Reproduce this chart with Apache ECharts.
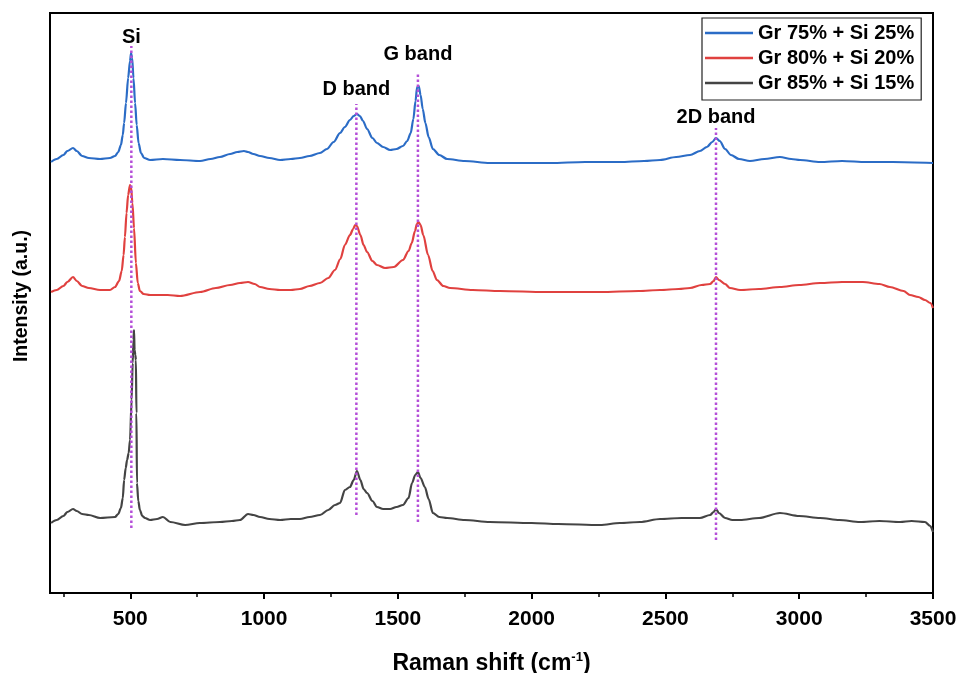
<!DOCTYPE html>
<html>
<head>
<meta charset="utf-8">
<script src="https://cdn.jsdelivr.net/npm/echarts@6/dist/echarts.min.js"></script>
<style>html,body{margin:0;padding:0;background:#fff}#c{width:961px;height:673px}</style>
</head>
<body>
<div id="c"></div>
<script>
// ---- data (Raman shift in cm^-1, intensity in arbitrary units, spectra vertically offset) ----
var seriesNames = ['Gr 75% + Si 25%', 'Gr 80% + Si 20%', 'Gr 85% + Si 15%'];
var seriesColors = ['#2b6cc6', '#e0413f', '#444444'];

var shift75 = [204,225,250,265,286,300,320,345,387,424,443,455,465,472,477,484,492,499,503,507,512,518,524,531,540,552,574,622,686,761,800,835,873,900,925,940,960,985,1020,1060,1100,1134,1170,1209,1235,1260,1284,1302,1321,1335,1347,1358,1370,1385,1405,1422,1445,1471,1495,1519,1535,1548,1558,1566,1572,1578,1585,1593,1603,1615,1631,1655,1684,1750,1844,1950,2069,2200,2330,2420,2480,2540,2592,2629,2655,2675,2689,2703,2723,2745,2775,2816,2870,2928,2970,3003,3078,3160,3250,3350,3500];
var int75   = [431,434,438,442,445,442,437,435,434,435,437,441,448,458,470,490,515,532,540,535,515,490,468,450,440,435,433,434,433,432,434,436,439,441,442,441,439,437,435,433,434,435,437,440,444,451,460,466,473,477,479,477,472,464,455,450,446,443,444,447,452,460,474,492,506,507,498,484,470,456,444,438,434,432,430,430,430,431,431,432,433,436,438,442,446,451,455,452,444,438,434,432,434,436,434,433,431,432,431,431,430];

var shift80 = [204,225,250,265,286,300,320,345,387,424,443,458,468,475,480,486,492,499,503,508,514,521,528,536,550,574,640,686,761,820,873,910,940,965,985,1020,1060,1100,1134,1170,1209,1240,1265,1285,1302,1321,1333,1340,1347,1360,1372,1385,1405,1422,1452,1485,1519,1540,1552,1564,1571,1577,1585,1595,1613,1630,1646,1670,1695,1780,1882,2050,2256,2400,2480,2550,2592,2635,2667,2680,2689,2700,2723,2741,2779,2850,2928,3000,3078,3160,3238,3300,3339,3390,3414,3445,3470,3490,3500];
var int80   = [301,303,307,311,316,312,307,305,303,303,306,312,322,338,356,380,398,408,406,390,365,330,310,302,299,298,298,297,301,305,308,310,311,309,306,304,303,303,304,307,310,315,323,334,348,358,364,368,367,358,348,341,332,328,325,326,333,342,350,362,369,371,368,358,338,322,313,307,305,303,302,301,301,302,303,304,305,308,309,312,316,313,309,305,303,304,306,308,310,311,311,309,306,302,298,296,293,290,285];

var shift85 = [204,225,250,265,286,300,320,345,387,443,455,465,472,477,483,488,494,499,505,509,512,514,516,519,521,523,525,530,536,545,555,574,600,622,650,705,760,835,880,910,940,960,985,1020,1060,1100,1134,1170,1209,1240,1265,1284,1302,1321,1335,1347,1360,1372,1385,1405,1422,1445,1471,1495,1519,1540,1553,1565,1575,1585,1601,1615,1631,1655,1684,1750,1844,2000,2100,2256,2330,2405,2480,2560,2629,2667,2680,2689,2700,2723,2750,2779,2850,2928,3000,3078,3150,3227,3300,3377,3420,3470,3490,3500];
var int85   = [70,73,77,81,84,82,79,78,75,76,79,85,95,113,125,133,140,153,193,230,253,263,243,238,233,180,110,92,83,77,75,73,74,76,71,68,70,71,72,73,79,78,76,74,73,74,74,76,78,83,88,90,103,106,113,122,113,104,100,92,86,84,84,86,88,95,110,118,121,115,106,94,80,76,75,73,71,70,69,68,70,71,74,75,75,78,81,84,80,75,73,73,75,80,77,75,73,71,72,71,72,71,67,61];

var bandNames  = ['Si', 'D band', 'G band', '2D band'];
var bandShift  = [504, 1345, 1575, 2689];
var bandLow    = [65, 78, 71, 53];
var bandHigh   = [547, 489, 521, 465];
var bandLabelLevel = [556, 504, 539, 476];

var majorTicks = [500, 1000, 1500, 2000, 2500, 3000, 3500];
var minorTicks = [250, 750, 1250, 1750, 2250, 2750, 3250];

// ---- build ----
function pairs(xs, ys) { return xs.map(function (x, i) { return [x, ys[i]]; }); }
var spectra = [pairs(shift75, int75), pairs(shift80, int80), pairs(shift85, int85)];
var font = 'Liberation Sans, Arial, sans-serif';

var series = [];
spectra.forEach(function (d, i) {
  series.push({
    name: seriesNames[i], type: 'line', data: d, symbol: 'none', showSymbol: false,
    smooth: 0.3, smoothMonotone: 'x',
    lineStyle: { color: seriesColors[i], width: 2.2 }, itemStyle: { color: seriesColors[i] },
    z: 3 - i, silent: true
  });
});
bandShift.forEach(function (s, i) {
  series.push({
    name: 'band' + i, type: 'line', symbol: 'none', silent: true, z: 5,
    data: [[s, bandLow[i]], [s, bandHigh[i]]],
    lineStyle: { color: '#b44ed8', width: 2.5, type: [2.5, 2.5] }
  });
});
series.push({
  name: 'bandLabels', type: 'scatter', symbolSize: 0, silent: true, z: 6,
  itemStyle: { opacity: 1 },
  data: bandNames.map(function (n, i) { return { name: n, value: [bandShift[i], bandLabelLevel[i]] }; }),
  label: { show: true, position: 'inside', formatter: '{b}', color: '#000', opacity: 1,
           textBorderWidth: 0,
           fontFamily: font, fontWeight: 'bold', fontSize: 20 }
});

var chart = echarts.init(document.getElementById('c'), null, { renderer: 'canvas' });
chart.setOption({
  animation: false,
  backgroundColor: '#fff',
  grid: { left: 50, right: 28, top: 13, bottom: 80, outerBoundsMode: 'none', containLabel: false,
          show: true, borderColor: '#000', borderWidth: 2, backgroundColor: 'transparent' },
  legend: {
    data: seriesNames, left: 702, top: 18, orient: 'vertical',
    icon: 'path://M0,0L48,0L48,2.4L0,2.4Z',
    itemWidth: 48, itemHeight: 20, itemGap: 5,
    padding: [5, 7, 7, 3],
    borderColor: '#222', borderWidth: 1.2,
    textStyle: { fontFamily: font, fontWeight: 'bold', fontSize: 20, color: '#000' }
  },
  xAxis: [{
    type: 'value', min: 200, max: 3500,
    name: 'Raman shift (cm{sup|-1})', nameLocation: 'middle', nameGap: 58,
    nameTextStyle: { fontFamily: font, fontWeight: 'bold', fontSize: 23, color: '#000',
      rich: { sup: { fontFamily: font, fontWeight: 'bold', fontSize: 13, color: '#000', verticalAlign: 'top', padding: [0, 0, 12, 0] } } },
    axisLine: { show: true, lineStyle: { color: '#000', width: 2 } },
    axisTick: { show: true, inside: false, length: 6, customValues: majorTicks, lineStyle: { color: '#000', width: 2 } },
    axisLabel: { show: true, customValues: majorTicks, margin: 16, formatter: function (v) { return String(v); },
                 fontFamily: font, fontWeight: 'bold', fontSize: 21, color: '#000' },
    splitLine: { show: false }
  }, {
    type: 'value', min: 200, max: 3500, position: 'bottom',
    axisLine: { show: false },
    axisTick: { show: true, inside: false, length: 4, customValues: minorTicks, lineStyle: { color: '#000', width: 1.5 } },
    axisLabel: { show: false },
    splitLine: { show: false }
  }],
  yAxis: {
    type: 'value', min: 0, max: 580,
    name: 'Intensity (a.u.)', nameLocation: 'middle', nameGap: 18,
    nameTextStyle: { fontFamily: font, fontWeight: 'bold', fontSize: 19.5, color: '#000', padding: [0, 0, 0, 14] },
    axisLine: { show: true, lineStyle: { color: '#000', width: 2 } },
    axisTick: { show: false }, axisLabel: { show: false }, splitLine: { show: false }
  },
  series: series
});
</script>
</body>
</html>
